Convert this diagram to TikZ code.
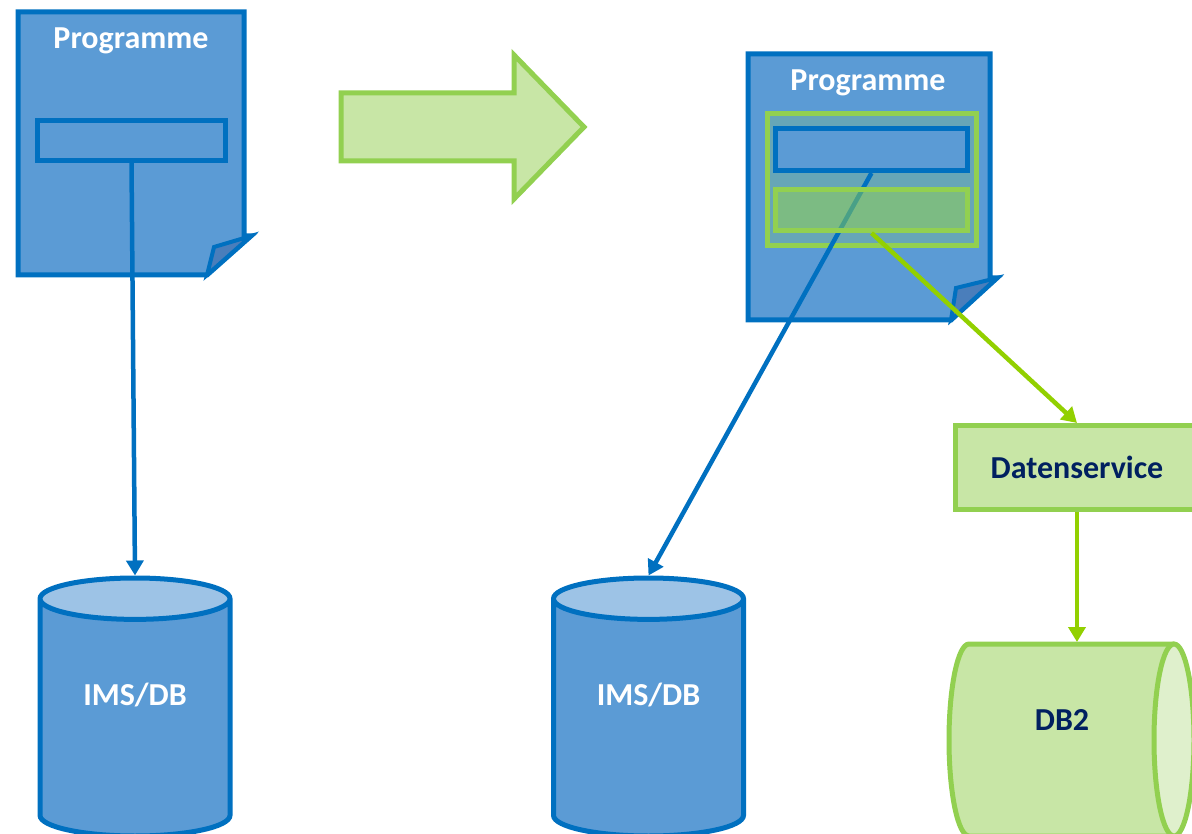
\documentclass[tikz,border=0pt]{standalone}
\usepackage{fontspec}
\setmainfont{Carlito}
\usepackage{tikz}
\usetikzlibrary{arrows.meta}
\usetikzlibrary{positioning}
\usetikzlibrary{shapes.geometric}
\definecolor{docblue}{HTML}{5B9BD5}
\definecolor{edgeblue}{HTML}{0070C0}
\definecolor{topblue}{HTML}{9DC3E6}
\definecolor{flapblue}{HTML}{4A7EBB}
\definecolor{softgreen}{HTML}{C8E6A6}
\definecolor{edgegreen}{HTML}{92D050}
\definecolor{linegreen}{HTML}{92D000}
\definecolor{endgreen}{HTML}{DFF0CC}
\definecolor{navy}{HTML}{002060}
\tikzstyle{every node}+=[inner sep=0pt]
\tikzstyle{page} = [draw=edgeblue, fill=docblue, line width=5pt, line join=miter]
\tikzstyle{flap} = [draw=edgeblue, fill=flapblue, line width=4pt, line join=miter]
\tikzstyle{headline} = [font=\fontsize{32}{36}\selectfont\bfseries, text=white]
\tikzstyle{field} = [rectangle, draw=edgeblue, fill=docblue, line width=5pt]
\tikzstyle{newfield} = [rectangle, draw=edgegreen, fill=edgegreen, fill opacity=0.5, line width=5pt]
\tikzstyle{wrap} = [rectangle, draw=edgegreen, fill=edgegreen, fill opacity=0.22, line width=5pt]
\tikzstyle{service} = [rectangle, draw=edgegreen, fill=softgreen, line width=5pt, text=navy, font=\fontsize{32}{36}\selectfont\bfseries]
\tikzstyle{imsdb} = [cylinder, shape border rotate=90, aspect=0.4, draw=edgeblue, line width=5pt, cylinder uses custom fill, cylinder body fill=docblue, cylinder end fill=topblue, minimum width=190pt, minimum height=258pt, text depth=49pt, text=white, font=\fontsize{32}{36}\selectfont\bfseries]
\tikzstyle{dbbody} = [draw=edgegreen, fill=softgreen, line width=5pt]
\tikzstyle{dbend} = [draw=edgegreen, fill=endgreen, line width=5pt]
\tikzstyle{dbtext} = [text=navy, font=\fontsize{32}{36}\selectfont\bfseries]
\tikzstyle{bigarrow} = [draw=edgegreen, fill=softgreen, line width=5pt, line join=miter]
\tikzstyle{line} = [draw, line width=4.5pt, -{Triangle[length=15pt,width=17pt]}]

\begin{document}
\begin{tikzpicture}[x=1pt, y=-1pt]
            \useasboundingbox (0,0) rectangle (1192,834);
            % Old program
            \draw [page] (18,12) -- (244,12) -- (244,236) -- (251,236) -- (207,275) -- (18,275) -- cycle;
            \draw [flap] (251,236) -- (214,247) -- (207,275) -- cycle;
            \node [headline] (titleL) at (131,41) {Programme};
            \node [field, minimum width=188pt, minimum height=40pt] (fieldL) at (131.5,140.5) {};
            \node [imsdb, anchor=shape center] (imsL) at (135,707) {IMS/DB};
            \path [line, edgeblue] (fieldL.south) -- (imsL.top);
            % Migration arrow
            \draw [bigarrow] (341,93) -- (514,93) -- (514,55) -- (584,127) -- (514,199) -- (514,161) -- (341,161) -- cycle;
            % New program
            \draw [page] (748,54) -- (990,54) -- (990,278) -- (997,278) -- (951,320) -- (748,320) -- cycle;
            \draw [flap] (997,278) -- (956,288) -- (951,320) -- cycle;
            \node [headline] (titleR) at (868,83) {Programme};
            \node [wrap, minimum width=209pt, minimum height=132pt] (wrapR) at (872,179.5) {};
            \node [field, minimum width=192pt, minimum height=42pt] (fieldR) at (871.5,149.5) {};
            \node [imsdb, anchor=shape center] (imsR) at (648.5,707) {IMS/DB};
            \path [line, edgeblue] (fieldR.south) -- (imsR.top);
            \node [newfield, minimum width=192pt, minimum height=41pt] (fieldNew) at (871.5,210) {};
            \node [service, minimum width=243pt, minimum height=84pt] (dienst) at (1077,467.5) {Datenservice};
            % DB2 store
            \draw [dbbody] (1174,644) -- (969,644) arc [start angle=270, end angle=90, x radius=20, y radius=96] -- (1174,836);
            \draw [dbend] (1174,740) ellipse [x radius=20, y radius=96];
            \node [dbtext] (db2) at (1062,720) {DB2};
            \coordinate (db2top) at (1077,642);
            % Draw edges
            \path [line, linegreen] (fieldNew.south) -- (dienst.north);
            \path [line, linegreen] (dienst.south) -- (db2top);
          \end{tikzpicture}
\end{document}
